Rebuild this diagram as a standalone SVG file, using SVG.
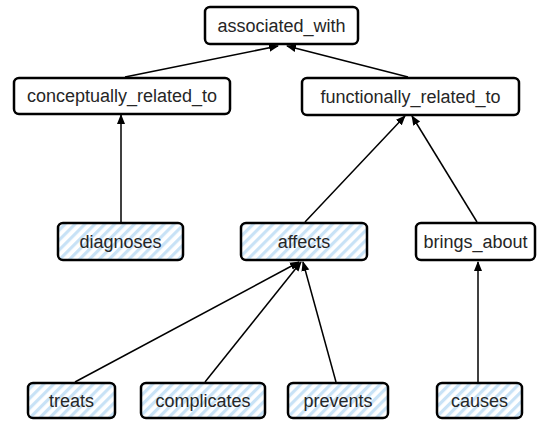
<svg xmlns="http://www.w3.org/2000/svg" width="543" height="421" viewBox="0 0 543 421">
  <style>
    .box { fill: #ffffff; stroke: #000000; stroke-width: 2.5; }
    .hatched { fill: url(#hatch); stroke: #000000; stroke-width: 2.5; }
    .label { font-family: "Liberation Sans", Arial, sans-serif; font-size: 18px; fill: #262626; text-anchor: middle; }
    .edge { stroke: #000000; stroke-width: 1.5; fill: none; marker-end: url(#arrow); }
  </style>
  <defs>
    <pattern id="hatch" patternUnits="userSpaceOnUse" width="7" height="7" patternTransform="rotate(45)">
      <rect width="7" height="7" fill="#ffffff"/>
      <rect width="3.2" height="7" fill="#c8e2f6"/>
    </pattern>
    <marker id="arrow" markerUnits="userSpaceOnUse" markerWidth="10" markerHeight="10" viewBox="0 0 10 10" refX="9" refY="5" orient="auto">
      <path d="M0,1 L10,5 L0,9 Z" fill="#000000"/>
    </marker>
  </defs>

  <rect width="543" height="421" fill="#ffffff"/>

  <g id="connectors">
    <line class="edge" x1="125" y1="77" x2="278" y2="46"/>
    <line class="edge" x1="408" y1="77" x2="287" y2="46"/>
    <line class="edge" x1="121" y1="222" x2="121" y2="115"/>
    <line class="edge" x1="305" y1="222" x2="405" y2="116"/>
    <line class="edge" x1="477" y1="222" x2="412" y2="116"/>
    <line class="edge" x1="478" y1="382" x2="478" y2="262"/>
    <line class="edge" x1="75" y1="382" x2="299" y2="262"/>
    <line class="edge" x1="205" y1="382" x2="301" y2="262"/>
    <line class="edge" x1="336" y1="382" x2="303" y2="262"/>
  </g>

  <g id="associated_with">
    <rect class="box" x="205" y="7" width="153" height="37" rx="5"/>
    <text class="label" x="281.5" y="32">associated_with</text>
  </g>
  <g id="conceptually_related_to">
    <rect class="box" x="14" y="78" width="216" height="36" rx="5"/>
    <text class="label" x="122" y="102">conceptually_related_to</text>
  </g>
  <g id="functionally_related_to">
    <rect class="box" x="302" y="78" width="217" height="37" rx="5"/>
    <text class="label" x="410.5" y="103">functionally_related_to</text>
  </g>
  <g id="diagnoses">
    <rect class="hatched" x="58" y="223" width="125" height="37" rx="5"/>
    <text class="label" x="120.5" y="248">diagnoses</text>
  </g>
  <g id="affects">
    <rect class="hatched" x="241" y="223" width="126" height="37" rx="5"/>
    <text class="label" x="304" y="248">affects</text>
  </g>
  <g id="brings_about">
    <rect class="box" x="416" y="223" width="119" height="37" rx="5"/>
    <text class="label" x="475.5" y="248">brings_about</text>
  </g>
  <g id="treats">
    <rect class="hatched" x="28" y="383" width="87" height="35" rx="5"/>
    <text class="label" x="71.5" y="407">treats</text>
  </g>
  <g id="complicates">
    <rect class="hatched" x="141" y="383" width="124" height="35" rx="5"/>
    <text class="label" x="203" y="407">complicates</text>
  </g>
  <g id="prevents">
    <rect class="hatched" x="288" y="383" width="100" height="35" rx="5"/>
    <text class="label" x="338" y="407">prevents</text>
  </g>
  <g id="causes">
    <rect class="hatched" x="437" y="383" width="85" height="35" rx="5"/>
    <text class="label" x="479.5" y="407">causes</text>
  </g>
</svg>
